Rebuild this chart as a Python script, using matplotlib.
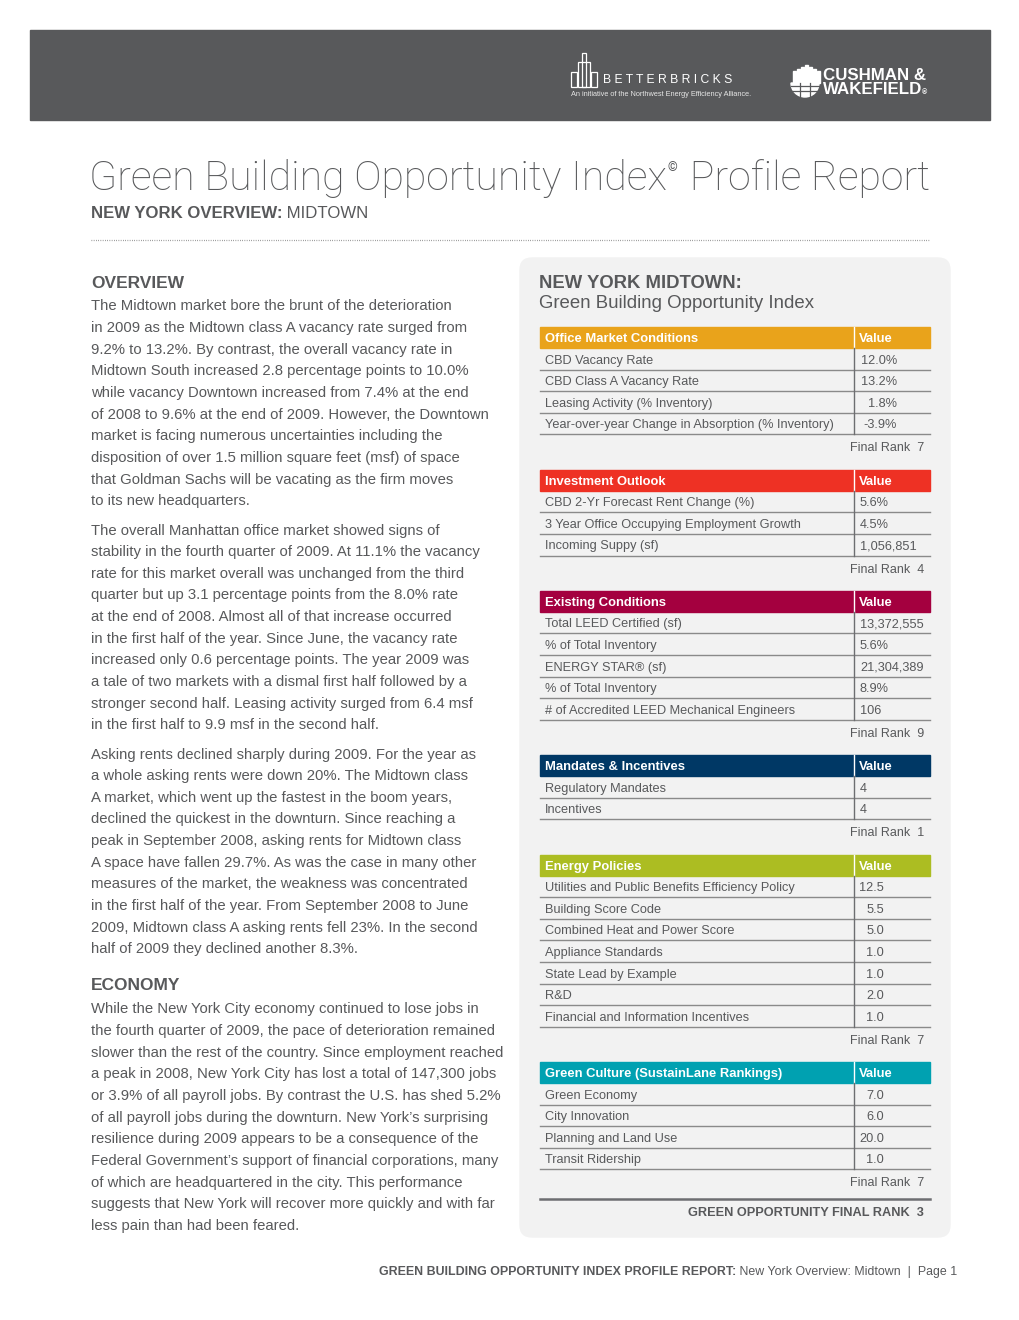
import matplotlib
matplotlib.use("Agg")
import matplotlib.pyplot as plt
from matplotlib.patches import Rectangle, FancyBboxPatch, Wedge

# ---- page text ----
title_main = "Green Building Opportunity Index"
title_tail = "Profile Report"
subtitle_bold = "NEW YORK OVERVIEW:"
subtitle_rest = " MIDTOWN"

overview_p1 = [
    "The Midtown market bore the brunt of the deterioration",
    "in 2009 as the Midtown class A vacancy rate surged from",
    "9.2% to 13.2%. By contrast, the overall vacancy rate in",
    "Midtown South increased 2.8 percentage points to 10.0%",
    "while vacancy Downtown increased from 7.4% at the end",
    "of 2008 to 9.6% at the end of 2009. However, the Downtown",
    "market is facing numerous uncertainties including the",
    "disposition of over 1.5 million square feet (msf) of space",
    "that Goldman Sachs will be vacating as the firm moves",
    "to its new headquarters.",
]
overview_p2 = [
    "The overall Manhattan office market showed signs of",
    "stability in the fourth quarter of 2009. At 11.1% the vacancy",
    "rate for this market overall was unchanged from the third",
    "quarter but up 3.1 percentage points from the 8.0% rate",
    "at the end of 2008. Almost all of that increase occurred",
    "in the first half of the year. Since June, the vacancy rate",
    "increased only 0.6 percentage points. The year 2009 was",
    "a tale of two markets with a dismal first half followed by a",
    "stronger second half. Leasing activity surged from 6.4 msf",
    "in the first half to 9.9 msf in the second half.",
]
overview_p3 = [
    "Asking rents declined sharply during 2009. For the year as",
    "a whole asking rents were down 20%. The Midtown class",
    "A market, which went up the fastest in the boom years,",
    "declined the quickest in the downturn. Since reaching a",
    "peak in September 2008, asking rents for Midtown class",
    "A space have fallen 29.7%. As was the case in many other",
    "measures of the market, the weakness was concentrated",
    "in the first half of the year. From September 2008 to June",
    "2009, Midtown class A asking rents fell 23%. In the second",
    "half of 2009 they declined another 8.3%.",
]
economy_p1 = [
    "While the New York City economy continued to lose jobs in",
    "the fourth quarter of 2009, the pace of deterioration remained",
    "slower than the rest of the country. Since employment reached",
    "a peak in 2008, New York City has lost a total of 147,300 jobs",
    "or 3.9% of all payroll jobs. By contrast the U.S. has shed 5.2%",
    "of all payroll jobs during the downturn. New York\u2019s surprising",
    "resilience during 2009 appears to be a consequence of the",
    "Federal Government\u2019s support of financial corporations, many",
    "of which are headquartered in the city. This performance",
    "suggests that New York will recover more quickly and with far",
    "less pain than had been feared.",
]

# ---- index tables ----
office_labels = ["CBD Vacancy Rate", "CBD Class A Vacancy Rate",
                 "Leasing Activity (% Inventory)",
                 "Year-over-year Change in Absorption (% Inventory)"]
office_values = ["12.0%", "13.2%", "1.8%", "-3.9%"]
office_rank = 7

invest_labels = ["CBD 2-Yr Forecast Rent Change (%)",
                 "3 Year Office Occupying Employment Growth",
                 "Incoming Suppy (sf)"]
invest_values = ["5.6%", "4.5%", "1,056,851"]
invest_rank = 4

existing_labels = ["Total LEED Certified (sf)", "% of Total Inventory",
                   "ENERGY STAR\u00ae (sf)", "% of Total Inventory",
                   "# of Accredited LEED Mechanical Engineers"]
existing_values = ["13,372,555", "5.6%", "21,304,389", "8.9%", "106"]
existing_rank = 9

mandates_labels = ["Regulatory Mandates", "Incentives"]
mandates_values = ["4", "4"]
mandates_rank = 1

energy_labels = ["Utilities and Public Benefits Efficiency Policy",
                 "Building Score Code", "Combined Heat and Power Score",
                 "Appliance Standards", "State Lead by Example", "R&D",
                 "Financial and Information Incentives"]
energy_values = ["12.5", "5.5", "5.0", "1.0", "1.0", "2.0", "1.0"]
energy_rank = 7

culture_labels = ["Green Economy", "City Innovation",
                  "Planning and Land Use", "Transit Ridership"]
culture_values = ["7.0", "6.0", "20.0", "1.0"]
culture_rank = 7

overall_rank = 3

GREY = "#58595b"
FONT = "Liberation Sans"

fig = plt.figure(figsize=(10.2, 13.2), dpi=100)
ax = fig.add_axes([0, 0, 1, 1])
ax.set_xlim(0, 1020)
ax.set_ylim(1320, 0)
ax.axis("off")


def txt(x, y, s, size=10.5, weight="normal", color=GREY, ha="left", **kw):
    return ax.text(x, y, s, fontsize=size, fontweight=weight, color=color,
                   ha=ha, va="center", family=FONT, **kw)


def after(prev, s, size, weight="normal", color=GREY, dy=0.0):
    # place a text run right after a previous one on the same baseline
    return ax.annotate(s, xy=(1, dy), xycoords=prev, va="bottom", ha="left",
                       fontsize=size, fontweight=weight, color=color,
                       family=FONT)


# ---- header band with logos ----
ax.add_patch(Rectangle((30, 30), 960, 90, color="#58595b", zorder=1))
# betterbricks mark
for x0, x1, y0 in [(571, 577, 72), (591, 597, 72), (578, 590, 62), (582, 586, 53)]:
    ax.add_patch(Rectangle((x0, y0), x1 - x0, 87 - y0, fill=False,
                           edgecolor="white", lw=0.9, zorder=2))
txt(603, 80, "B E T T E R B R I C K S", size=8.7, color="white")
txt(571, 95, "An initiative of the Northwest Energy Efficiency Alliance.",
    size=5.3, color="#e6e6e6")
# cushman & wakefield mark
for i, x in enumerate(range(793, 818, 4)):
    top = 65 + abs(i - 3) * 2
    ax.add_patch(Rectangle((x, top), 2.8, 83 - top, color="white", zorder=2))
ax.add_patch(Wedge((805, 83), 14, 0, 180, color="white", zorder=2))
for yy in (86, 91):
    ax.plot([791, 819], [yy, yy], color="#58595b", lw=0.9, zorder=3)
for xx in (800, 810):
    ax.plot([xx, xx], [83, 97], color="#58595b", lw=0.9, zorder=3)
txt(823, 75, "CUSHMAN &", size=12.2, weight="bold", color="white")
cw = txt(823, 89, "WAKEFIELD", size=12.2, weight="bold", color="white")
after(cw, "\u00ae", 5, weight="bold", color="white")

# ---- title block ----
t1 = ax.text(89, 190, title_main, fontsize=29.5, color=GREY, family="Roboto",
             fontweight="light", va="baseline")
ax.annotate("\u00a9", xy=(1, 0.62), xycoords=t1, va="bottom",
            fontsize=9, color=GREY, family="Roboto")
ax.annotate(" " + title_tail, xy=(1, 0), xycoords=t1, xytext=(9, 0),
            textcoords="offset points", va="bottom", fontsize=29.5,
            color=GREY, family="Roboto", fontweight="light")
s1 = txt(91, 213, subtitle_bold, size=12.1, weight="bold")
after(s1, subtitle_rest, 12.1)
ax.plot([91, 930], [240, 240], color="#808080", lw=0.9,
        linestyle=(0, (0.6, 1.2)))

# ---- left column ----
LINE = 21.65
txt(91, 283, "OVERVIEW", size=12.5, weight="bold")


def para(lines, y0):
    for i, line in enumerate(lines):
        txt(91, y0 + i * LINE + 0.5, line, size=10.75)


para(overview_p1, 306)
para(overview_p2, 530)
para(overview_p3, 754)
txt(91, 985, "ECONOMY", size=12.5, weight="bold")
para(economy_p1, 1009)

# ---- right panel ----
ax.add_patch(FancyBboxPatch((528, 266), 414, 963,
                            boxstyle="round,pad=8,rounding_size=12",
                            color="#f2f2f2", zorder=0))
txt(539, 283, "NEW YORK MIDTOWN:", size=13.3, weight="bold")
txt(539, 304, "Green Building Opportunity Index", size=13.4)

TX0, TX1, TDIV = 540, 930, 854
HEAD_H, ROW_H, GAP = 21, 21.6, 35.3
SZ = 9.2


def draw_table(y_top, title, color, labels, values, rank, value_align):
    ax.add_patch(Rectangle((TX0, y_top), TX1 - TX0, HEAD_H, color=color, zorder=2))
    ax.plot([TDIV, TDIV], [y_top, y_top + HEAD_H], color="white", lw=1, zorder=3)
    txt(545, y_top + HEAD_H / 2 + 1.5, title, size=9.4, weight="bold", color="white", zorder=4)
    txt(859, y_top + HEAD_H / 2 + 1.5, "Value", size=9.4, weight="bold", color="white", zorder=4)
    y = y_top + HEAD_H
    for lab, val in zip(labels, values):
        ty = y + ROW_H / 2 + 1.8
        txt(545, ty, lab, size=SZ)
        if value_align == "left":
            txt(860, ty, val, size=SZ)
        else:
            txt(value_align, ty, val, size=SZ, ha="right")
        y += ROW_H
        ax.plot([TX0, TX1], [y, y], color="#8a8a8a", lw=1, zorder=2)
    ax.plot([TDIV, TDIV], [y_top + HEAD_H, y], color="#6d6e71", lw=1, zorder=3)
    txt(924, y + 14, f"Final Rank  {rank}", size=9.0, ha="right")
    return y + GAP


y = 327
y = draw_table(y, "Office Market Conditions", "#e9a31b", office_labels,
               office_values, office_rank, 897)
y = draw_table(y, "Investment Outlook", "#ee3124", invest_labels,
               invest_values, invest_rank, "left")
y = draw_table(y, "Existing Conditions", "#a4003f", existing_labels,
               existing_values, existing_rank, "left")
y = draw_table(y, "Mandates & Incentives", "#003865", mandates_labels,
               mandates_values, mandates_rank, "left")
y = draw_table(y, "Energy Policies", "#acbd22", energy_labels,
               energy_values, energy_rank, 884)
y = draw_table(y, "Green Culture (SustainLane Rankings)", "#00a1b1",
               culture_labels, culture_values, culture_rank, 884)

ax.plot([TX0, TX1], [1199, 1199], color="#6d6e71", lw=1.8)
txt(924, 1213, f"GREEN OPPORTUNITY FINAL RANK  {overall_rank}", size=9.2,
    weight="bold", ha="right")

# ---- footer ----
f1 = txt(379, 1272, "GREEN BUILDING OPPORTUNITY INDEX PROFILE REPORT:",
         size=8.95, weight="bold")
after(f1, " New York Overview: Midtown  |  Page 1", 8.95)

fig.savefig("out.png", dpi=100)
